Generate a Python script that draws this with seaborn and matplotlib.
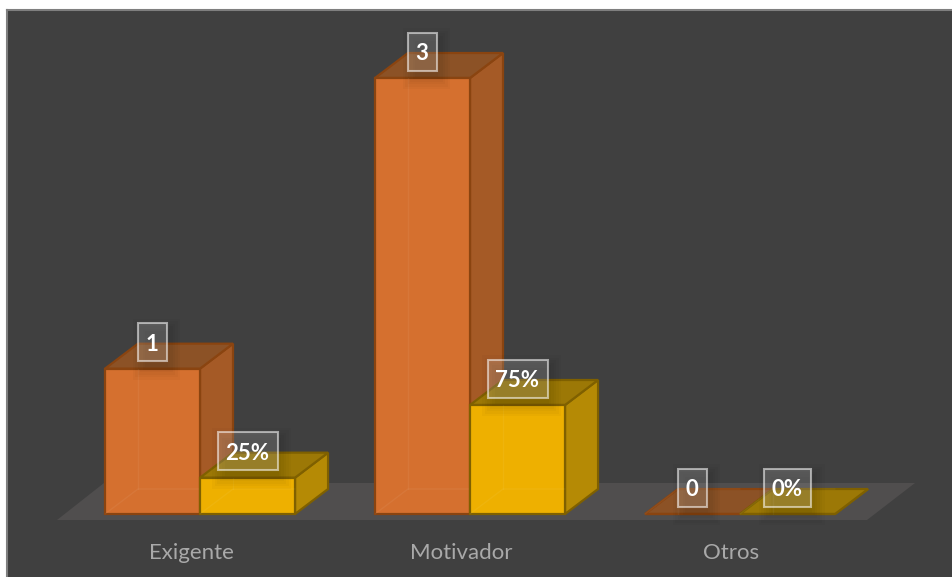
import matplotlib
matplotlib.use('Agg')
import pandas as pd
import matplotlib.pyplot as plt
import seaborn as sns
from matplotlib.patches import Polygon, Rectangle
from matplotlib.transforms import IdentityTransform, Affine2D

# datos del grafico
categorias = ['Exigente', 'Motivador', 'Otros']
conteo = [1, 3, 0]
porcentaje = [0.25, 0.75, 0]

W, H = 952, 577
PX_X = 270.0      # pixeles por categoria
PX_Y = 145.33     # pixeles por unidad
X0, Y0 = 200, 514  # pixel de la categoria 0 y del valor 0
DX, DY = 33 / PX_X, 25 / PX_Y  # profundidad de la caja

df = pd.DataFrame({
    'categoria': categorias * 2,
    'valor': conteo + porcentaje,
    'serie': ['conteo'] * 3 + ['porcentaje'] * 3,
})

sns.set_theme(style='dark')
plt.rcParams['font.family'] = ['Lato', 'DejaVu Sans']

fig = plt.figure(figsize=(W / 100, H / 100), dpi=100, facecolor='white')
ax = fig.add_axes([7 / W, 0, (W - 7) / W, (H - 10) / H], facecolor='#404040')

colores = [
    dict(front='#d5702f', side='#a55a26', top='#8c5226', edge='#8a4410'),
    dict(front='#eeb000', side='#b58a05', top='#9c7806', edge='#7f6000'),
]

sns.barplot(data=df, x='categoria', y='valor', hue='serie',
            palette=[c['front'] for c in colores], width=0.704, gap=0,
            saturation=1, legend=False, ax=ax)

ax.set_xlim((7 - X0) / PX_X, (W - X0) / PX_X)
ax.set_ylim((Y0 - H) / PX_Y, (Y0 - 10) / PX_Y)


def px(x, y):
    return (x - X0) / PX_X, (Y0 - y) / PX_Y


# suelo
ax.add_patch(Polygon([px(57, 520), px(867, 520), px(915, 483), px(104, 483)],
                     closed=True, fc='#504e4e', ec='none', zorder=0.5))

labels = []
for n, (cont, c) in enumerate(zip(ax.containers, colores)):
    base = 1 + n * 2
    for bar, v in zip(cont, conteo if n == 0 else porcentaje):
        x, w, h = bar.get_x(), bar.get_width(), bar.get_height()
        # lados de la caja
        ax.add_patch(Polygon([(x + w, 0), (x + w + DX, DY), (x + w + DX, h + DY), (x + w, h)],
                             closed=True, fc=c['side'], ec=c['edge'], lw=1.6, zorder=base))
        ax.add_patch(Polygon([(x, h), (x + w, h), (x + w + DX, h + DY), (x + DX, h + DY)],
                             closed=True, fc=c['top'], ec=c['edge'], lw=1.6, zorder=base))
        bar.set_edgecolor(c['edge'])
        bar.set_linewidth(1.6)
        bar.set_zorder(base + 1)
        # aristas traseras que se ven a traves de la cara frontal
        ax.plot([x + DX, x + DX], [DY, h], color='white', alpha=0.05, lw=1, zorder=base + 1.2)
        ax.plot([x, x + DX, x + w], [0, DY, DY], color='white', alpha=0.05, lw=1, zorder=base + 1.2)
        txt = str(v) if n == 0 else f'{v:.0%}'
        labels.append((x + w / 2, h, txt))

ax.set_xlabel('')
ax.set_ylabel('')
ax.set_yticks([])
ax.tick_params(axis='x', length=0, pad=-24.5, labelsize=16, labelcolor='#a9a9a9')
# las etiquetas del eje quedan un poco a la izquierda de cada grupo
for lab in ax.get_xticklabels():
    lab.set_transform(lab.get_transform() + Affine2D().translate(-9, 0))

for s in ['top', 'left']:
    ax.spines[s].set_color('#7f7f7f')
    ax.spines[s].set_linewidth(1.5)
for s in ['right', 'bottom']:
    ax.spines[s].set_visible(False)

# etiquetas con caja translucida y sombra
renderer = fig.canvas.get_renderer()
for x, h, txt in labels:
    xd, yd = ax.transData.transform((x, h))
    cy = yd + 26.5
    t = ax.text(xd - 0.5, cy - 2, txt, transform=IdentityTransform(), ha='center', va='center',
                fontsize=16, fontweight='bold', color='white', zorder=12)
    ext = t.get_window_extent(renderer)
    bw = ext.width + 16
    bh = 38
    for i in range(6):
        g = 1 + 2.5 * i
        ax.add_patch(Rectangle((xd - bw / 2 + 8 - g, cy - bh / 2 - 5 - g), bw + 2 * g - 8, bh + 2 * g - 4,
                               transform=IdentityTransform(), fc='black', ec='none',
                               alpha=0.025, zorder=10))
    ax.add_patch(Rectangle((xd - bw / 2, cy - bh / 2), bw, bh, transform=IdentityTransform(),
                           fc=(1, 1, 1, 0.16), ec=(1, 1, 1, 0.55), lw=1.5, zorder=11))

fig.savefig('out.png', dpi=100, facecolor='white')
